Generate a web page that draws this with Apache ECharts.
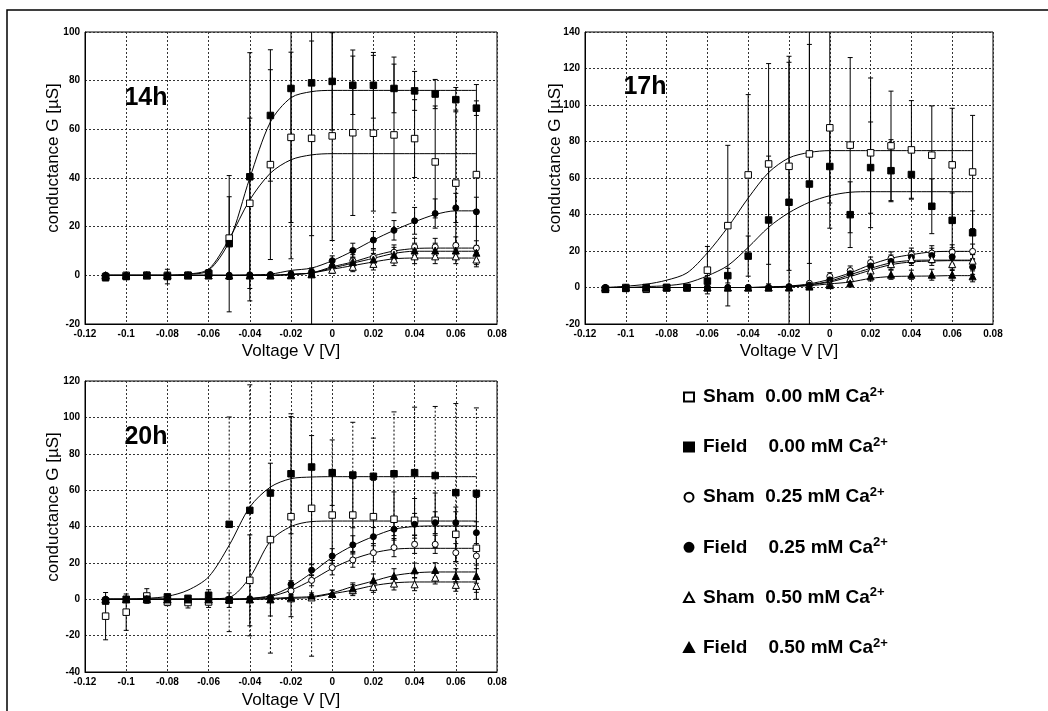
<!DOCTYPE html>
<html>
<head>
<meta charset="utf-8">
<script src="https://cdn.jsdelivr.net/npm/echarts@6/dist/echarts.min.js"></script>
<style>
html,body{margin:0;padding:0;background:#fff;}
#chart{width:1048px;height:711px;}
</style>
</head>
<body>
<div id="chart"></div>
<script>
// ---------------- DATA ----------------
const X = [-0.11,-0.10,-0.09,-0.08,-0.07,-0.06,-0.05,-0.04,-0.03,-0.02,-0.01,0,0.01,0.02,0.03,0.04,0.05,0.06,0.07];
const X_TICKS = [-0.12,-0.1,-0.08,-0.06,-0.04,-0.02,0,0.02,0.04,0.06,0.08];
const NAMES = ['Sham  0.00 mM Ca2+','Field    0.00 mM Ca2+','Sham  0.25 mM Ca2+','Field    0.25 mM Ca2+','Sham  0.50 mM Ca2+','Field    0.50 mM Ca2+'];
const PANEL_LABELS = ['14h','17h','20h'];

// 14h : measured points
const S00_14 = [-0.5,0,0,0,0,0.8,15.3,29.6,45.5,56.7,56.3,57.3,58.6,58.4,57.7,56.2,46.6,37.9,41.4];
const F00_14 = [-1,-0.5,0,-0.5,0,0.8,13,40.5,65.7,76.8,79.1,79.7,78.1,78.1,76.8,75.8,74.5,72.2,68.7];
const S25_14 = [0,0,0,0,0,0,0,0,0,0.2,0.6,3.7,6,7.4,9.5,11.7,11.7,12.3,11.2];
const F25_14 = [0,0,0,0,0,0,0,0.2,0.3,0.5,1.5,6,10.2,14.5,18.5,22.4,25.4,27.7,26.1];
const S50_14 = [0,0,0,0,0,0,0,0,0,0,0.4,2.3,3.5,4.7,6.5,7.8,7.8,7.8,6.5];
const F50_14 = [0,0,0,0,0,0,0,0,0,0.2,0.6,4.5,5.5,6.5,8.5,10.2,10.2,10.2,9.3];
// 14h : fitted curves
const C_S00_14 = [0,0,0,0,0.5,2.5,15,31,42,47.5,49.5,50,50,50,50,50,50,50,50];
const C_F00_14 = [0,0,0,0,0.4,2,14,40,63,73,75.5,76,76,76,76,76,76,76,76];
const C_S25_14 = [0,0,0,0,0,0,0,0,0,0.5,1,3.5,5.5,8,10,11,11.2,11.2,11.2];
const C_F25_14 = [0,0,0,0,0,0,0,0.2,0.5,2,3,6,10,14.5,18.5,22,25,26.5,26.5];
const C_S50_14 = [0,0,0,0,0,0,0,0,0,0.3,1,2.5,4,5.5,6.8,7.1,7.1,7.1,7.1];
const C_F50_14 = [0,0,0,0,0,0,0,0,0,0.3,1,3,5,7,9,9.9,9.9,9.9,9.9];
// 14h : error (half-length)
const E_S00_14 = [0.5,0.5,0.5,1,0.5,1.5,17,35,39,35,40,43,34,32,32,16,23,30,37];
const E_F00_14 = [1,1,0.5,3,0.5,1.5,28,51,27,70,105,20,12,13.5,10,8,6,5,3];
const E_S25_14 = [0,0,0,0,0,0,0,0,0,0.5,1,2,2.5,3,3,3.5,3.5,3.5,3];
const E_F25_14 = [0,0,0,0,0,0,0,0,0,1,1.5,2,3,3.5,4,5.5,6,6,6];
const E_S50_14 = [0,0,0,0,0,0,0,0,0,0.5,1,1.5,2,2.5,2.5,3,3,3,3];
const E_F50_14 = [0,0,0,0,0,0,0,0,0,0.5,1,1.5,2,2.5,3,3,3,3,3];

// 17h : measured points
const S00_17 = [-1,0,-1,0,0,9.5,33.9,61.7,67.7,66.4,73.2,87.5,78,73.8,77.6,75.4,72.5,67.2,63.3];
const F00_17 = [-1,-0.5,0,0,0,3.5,6.5,17.2,37,46.7,56.7,66.3,39.9,65.7,64,61.9,44.5,36.8,30];
const S25_17 = [0,0,0,0,0,0,0,0,0,0.5,2.3,6.1,9.3,13.7,16,18.1,18.9,19.4,19.8];
const F25_17 = [0,0,0,0,0,0,0,0,0,0.3,1.3,4.2,7.6,11.8,14.3,16.6,17.5,16.8,11.2];
const S50_17 = [0,0,0,0,0,0,0,0,0,0.2,1,2.3,5.1,9.3,12.8,15.6,15.6,12.8,14.7];
const F50_17 = [0,0,0,0,0,0,0,0,0,0,0.5,1.3,2.3,6.1,7,7,7,7,6.1];
// 17h : fitted curves
const C_S00_17 = [0,0.7,1.8,4,8,19,33,49,63,71,74,75,75,75,75,75,75,75,75];
const C_F00_17 = [0,0,0.5,1,2.5,6.4,12,22,33,41,46.7,50.3,52.2,52.5,52.5,52.5,52.5,52.5,52.5];
const C_S25_17 = [0,0,0,0,0,0,0,0,0.3,0.8,2,4.5,8,12.5,16,18,19.5,19.8,19.8];
const C_F25_17 = [0,0,0,0,0,0,0,0,0.2,0.6,1.5,3.5,7,10.5,13.5,14.8,15,15,15];
const C_S50_17 = [0,0,0,0,0,0,0,0,0.2,0.5,1.5,3,6,9.5,12.5,14,14.5,14.7,14.7];
const C_F50_17 = [0,0,0,0,0,0,0,0,0,0.3,1,2,3,5,6,6.2,6.3,6.5,6.5];
// 17h : error
const E_S00_17 = [1,1,1,1,1,13,44,44,55,57,60,55,48,41,30,27,27,31,31];
const E_F00_17 = [1,1,1,1,1,3,4,11,35,80,100,20,18,25,17,13,15,15,12];
const E_S25_17 = [0,0,0,0,0,0,0,0,0,0.5,1,2,2.5,3,3.5,3.5,4,4,4];
const E_F25_17 = [0,0,0,0,0,0,0,0,0,0.5,1,2,2.5,3,3.5,3.5,4,4,4];
const E_S50_17 = [0,0,0,0,0,0,0,0,0,0.5,1,1.5,2,3,3,3.5,3.5,3.5,3.5];
const E_F50_17 = [0,0,0,0,0,0,0,0,0,0.5,1,1.5,2,2.5,2.5,2.5,3,3,3];

// 20h : measured points
const S00_20 = [-9.3,-7.1,1.8,-1.5,-1.8,-1.5,-0.5,10.4,32.8,45.4,50,46.3,46.3,45.4,44,43.4,43.4,35.7,28];
const F00_20 = [-1,0,0,1.3,0.5,2.2,41.2,48.9,58.4,69,72.7,69.6,68.3,67.6,69,69.6,68,58.6,58.2];
const S25_20 = [0,0,0,0,0,0,0,0,0.5,4.6,10.4,17.4,21.6,25.6,28.4,30.2,30.2,25.6,23.8];
const F25_20 = [0,0,0,0,0,0,0,0.3,1,8.2,16,23.8,29.9,34.4,38.5,41.2,42.1,42.1,36.6];
const S50_20 = [0,0,0,0,0,0,0,0,0,0.5,1,3,5,6.8,8.6,8.2,11.9,7.9,7.3];
const F50_20 = [0,0,0,0,0,0,0,0,0,1,2,3,6,10.4,12.8,15.9,16.1,12.8,12.8];
// 20h : fitted curves
const C_S00_20 = [0,0,0,0,0,0.2,1,12,32,40,42.7,43,43,43,43,43,43,43,43];
const C_F00_20 = [0,0,0.5,1.6,5,12.3,29.7,50.7,61.7,66.3,67.2,67.4,67.4,67.4,67.4,67.4,67.4,67.4,67.4];
const C_S25_20 = [0,0,0,0,0,0,0,0.3,1.5,5,10.5,17,22,25.5,27.5,28,28,28,28];
const C_F25_20 = [0,0,0,0,0,0,0,0.5,2,7,14.5,23,29.5,34.5,38.5,40,40.3,40.3,40.3];
const C_S50_20 = [0,0,0,0,0,0,0,0,0.2,0.5,1,3,5,7.5,9,9.5,9.5,9.5,9.5];
const C_F50_20 = [0,0,0,0,0,0,0,0,0.5,1,1.5,3.5,7,10,13,14.5,15,15,15];
// 20h : error
const E_S00_20 = [13,10,4,2,3,3,4,25,42,55,40,25,20,20,15,12,15,15,28];
const E_F00_20 = [1,1,1,1,1,3,59,69,88,33,104,18,29,21,34,36,38,49,47];
const E_S25_20 = [0,0,0,0,0,0,0,0,1,2,3,4,4,5,5,5,5,5,5];
const E_F25_20 = [0,0,0,0,0,0,0,0,1,2,3,4,5,5,6,6,6,6,6];
const E_S50_20 = [0,0,0,0,0,0,0,0,0.5,1,1.5,2,3,3,3.5,3.5,3.5,3.5,3.5];
const E_F50_20 = [0,0,0,0,0,0,0,0,0.5,1,1.5,2,3,3.5,4,4,4,4,4];

// ---------------- LAYOUT / STYLE ----------------
const FONT = '"Liberation Sans", Arial, sans-serif';
const PANELS = [
  {vals:[S00_14,F00_14,S25_14,F25_14,S50_14,F50_14], fits:[C_S00_14,C_F00_14,C_S25_14,C_F25_14,C_S50_14,C_F50_14], errs:[E_S00_14,E_F00_14,E_S25_14,E_F25_14,E_S50_14,E_F50_14],
   grid:{left:85,top:32,width:412,height:292}, ymin:-20, ymax:100, dashF:false, label:[146,98], yname:[53,158], xname:[291,351]},
  {vals:[S00_17,F00_17,S25_17,F25_17,S50_17,F50_17], fits:[C_S00_17,C_F00_17,C_S25_17,C_F25_17,C_S50_17,C_F50_17], errs:[E_S00_17,E_F00_17,E_S25_17,E_F25_17,E_S50_17,E_F50_17],
   grid:{left:585,top:32,width:408,height:292}, ymin:-20, ymax:140, dashF:false, label:[645,87], yname:[555,158], xname:[789,351]},
  {vals:[S00_20,F00_20,S25_20,F25_20,S50_20,F50_20], fits:[C_S00_20,C_F00_20,C_S25_20,C_F25_20,C_S50_20,C_F50_20], errs:[E_S00_20,E_F00_20,E_S25_20,E_F25_20,E_S50_20,E_F50_20],
   grid:{left:85,top:381,width:412,height:291}, ymin:-40, ymax:120, dashF:true, label:[146,437], yname:[53,507], xname:[291,700]}
];
const SYMBOLS = ['rect','rect','circle','circle','triangle','triangle'];
const FILLED = [false,true,false,true,false,true];
const SIZES = [6.5,6.5,6,6,7,7];

function fmtX(v){ return String(parseFloat(v.toFixed(2))); }

const grids = [], xAxes = [], yAxes = [], series = [], graphics = [];
PANELS.forEach((p, pi) => {
  grids.push(Object.assign({show:true, borderColor:'#000', borderWidth:1, backgroundColor:'transparent', containLabel:false}, p.grid));
  xAxes.push({type:'value', gridIndex:pi, min:-0.12, max:0.08, interval:0.02,
    axisLine:{show:true, onZero:false, lineStyle:{color:'#000', width:1}}, axisTick:{show:false},
    axisLabel:{color:'#000', fontSize:10, fontWeight:'bold', fontFamily:FONT, margin:5, formatter:fmtX,
      showMinLabel:true, showMaxLabel:true},
    splitLine:{show:true, lineStyle:{color:'#333', width:1, type:[2,2]}}});
  yAxes.push({type:'value', gridIndex:pi, min:p.ymin, max:p.ymax, interval:20,
    axisLine:{show:true, onZero:false, lineStyle:{color:'#000', width:1}}, axisTick:{show:false},
    axisLabel:{color:'#000', fontSize:10, fontWeight:'bold', fontFamily:FONT, margin:5,
      showMinLabel:true, showMaxLabel:true},
    splitLine:{show:true, lineStyle:{color:'#333', width:1, type:[2,2]}}});
  // fitted curves
  p.fits.forEach((c, si) => {
    series.push({type:'line', name:'fit'+pi+'_'+si, xAxisIndex:pi, yAxisIndex:pi,
      data:X.map((x,i)=>[x,c[i]]), showSymbol:false, symbol:'none', smooth:0.3,
      lineStyle:{color:'#000', width:1}, silent:true, z:2, clip:true});
  });
  // error bars
  p.errs.forEach((e, si) => {
    const v = p.vals[si];
    const dashed = p.dashF && si === 1;
    series.push({type:'custom', name:'err'+pi+'_'+si, xAxisIndex:pi, yAxisIndex:pi, clip:true, silent:true, z:3,
      data:X.map((x,i)=>[x, v[i]-e[i], v[i]+e[i]]),
      renderItem:(params, api) => {
        const a = api.coord([api.value(0), api.value(1)]);
        const b = api.coord([api.value(0), api.value(2)]);
        const st = {stroke:'#000', lineWidth:1, lineDash: dashed ? [2,2] : null};
        const cw = 2.5;
        return {type:'group', children:[
          {type:'line', shape:{x1:a[0], y1:a[1], x2:b[0], y2:b[1]}, style:st},
          {type:'line', shape:{x1:a[0]-cw, y1:a[1], x2:a[0]+cw, y2:a[1]}, style:{stroke:'#000', lineWidth:1}},
          {type:'line', shape:{x1:b[0]-cw, y1:b[1], x2:b[0]+cw, y2:b[1]}, style:{stroke:'#000', lineWidth:1}}
        ]};
      }});
  });
  // markers
  p.vals.forEach((v, si) => {
    series.push({type:'scatter', name:NAMES[si], xAxisIndex:pi, yAxisIndex:pi,
      data:X.map((x,i)=>[x,v[i]]), symbol:SYMBOLS[si], symbolSize:SIZES[si], z:4, clip:true,
      itemStyle:{color:FILLED[si] ? '#000' : '#fff', borderColor:'#000', borderWidth:1, opacity:1}});
  });
  graphics.push({type:'text', x:p.label[0], y:p.label[1], z:10,
    style:{text:PANEL_LABELS[pi], font:'bold 25px '+FONT, fill:'#000', align:'center', verticalAlign:'middle', textAlign:'center', textVerticalAlign:'middle'}});
  graphics.push({type:'text', x:p.yname[0], y:p.yname[1], rotation:Math.PI/2, z:10,
    style:{text:'conductance G [µS]', font:'17px '+FONT, fill:'#000', align:'center', verticalAlign:'middle', textAlign:'center', textVerticalAlign:'middle'}});
  graphics.push({type:'text', x:p.xname[0], y:p.xname[1], z:10,
    style:{text:'Voltage V [V]', font:'17px '+FONT, fill:'#000', align:'center', verticalAlign:'middle', textAlign:'center', textVerticalAlign:'middle'}});
});
graphics.push({type:'rect', shape:{x:7, y:10, width:1070, height:730}, z:-1,
  style:{fill:'none', stroke:'#000', lineWidth:1.5}});

const option = {
  animation:false,
  backgroundColor:'#fff',
  grid:grids, xAxis:xAxes, yAxis:yAxes, series:series, graphic:graphics,
  legend:{
    data:NAMES, orient:'vertical', left:678, top:381,
    itemWidth:10, itemHeight:9, itemGap:29.6, selectedMode:false, symbolKeepAspect:true,
    formatter:n => '{t|' + n.slice(0,-2) + '}{s|' + n.slice(-2) + '}',
    textStyle:{color:'#000', rich:{
      t:{fontSize:19, fontWeight:'bold', fontFamily:FONT, lineHeight:22, color:'#000', verticalAlign:'middle', padding:[0,0,0,4]},
      s:{fontSize:13, fontWeight:'bold', fontFamily:FONT, lineHeight:14, color:'#000', verticalAlign:'top'}
    }}
  }
};
const chart = echarts.init(document.getElementById('chart'), null, {renderer:'canvas'});
chart.setOption(option);
</script>
</body>
</html>
